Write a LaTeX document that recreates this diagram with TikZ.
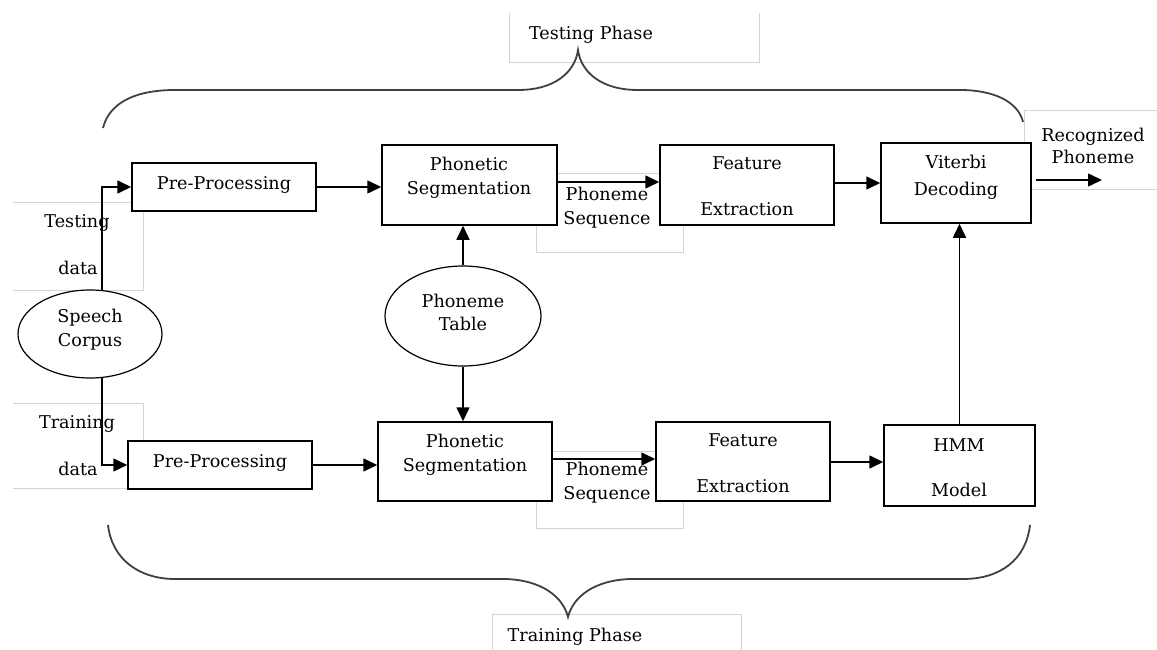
\documentclass[tikz,border=0pt]{standalone}
\usepackage{fontspec}
\setmainfont{DejaVu Serif}
\usetikzlibrary{arrows.meta,calc,shapes.geometric}
\begin{document}
\begin{tikzpicture}[x=1pt,y=-1pt,
  box/.style={draw=black,line width=1.5pt,fill=white,inner sep=0pt},
  oval/.style={draw=black,line width=1.2pt,ellipse,fill=white,inner sep=0pt},
  txt/.style={font=\fontsize{17.6}{24}\selectfont,align=center,inner sep=0pt},
  frame/.style={draw=black!17,line width=1pt},
  arr/.style={line width=1.6pt,-{Triangle[length=14pt,width=13pt]}},
  brace/.style={draw=black!75,line width=1.8pt}]
\useasboundingbox (0,0) rectangle (1157,650);

% light text-box frames
\draw[frame] (509,13) |- (759,63) -- (759,13);
\draw[frame] (492,650) |- (741,614) -- (741,650);
\draw[frame] (13,202) -| (143,290) -- (13,290);
\draw[frame] (13,403) -| (143,488) -- (13,488);
\draw[frame] (536,174) rectangle (683,252);
\draw[frame] (536,451) rectangle (683,528);
\draw[frame] (1157,111) -| (1024,189) -- (1157,189);

% braces
\draw[brace] (103,128) .. controls (110,100) and (140,90) .. (175,90) -- (518,90)
  .. controls (555,90) and (575,72) .. (578,50)
  .. controls (581,72) and (601,90) .. (638,90) -- (963,90)
  .. controls (1000,91) and (1019,105) .. (1023,122);
\draw[brace] (108,525) .. controls (112,560) and (140,579) .. (175,579) -- (505,579)
  .. controls (542,580) and (563,597) .. (568,617)
  .. controls (573,597) and (594,580) .. (631,579) -- (963,579)
  .. controls (1000,579) and (1026,560) .. (1030,525);

% boxes
\node[box,minimum width=184pt,minimum height=48pt] (pp1) at (224,187) {};
\node[box,minimum width=184pt,minimum height=48pt] (pp2) at (220,465) {};
\node[box,minimum width=175pt,minimum height=80pt] (ps1) at (469.5,185) {};
\node[box,minimum width=174pt,minimum height=79pt] (ps2) at (465,461.5) {};
\node[box,minimum width=174pt,minimum height=80pt] (fe1) at (747,185) {};
\node[box,minimum width=174pt,minimum height=79pt] (fe2) at (743,461.5) {};
\node[box,minimum width=150pt,minimum height=80pt] (vd) at (956,183) {};
\node[box,minimum width=151pt,minimum height=81pt] (hmm) at (959.5,465.5) {};
\node[oval,minimum width=144pt,minimum height=88pt] (sc) at (90,334) {};
\node[oval,minimum width=156pt,minimum height=100pt] (pt) at (463,316) {};

% texts
\node[txt] (tph) at (591,35) {Testing Phase};
\node[txt] (trph) at (575,637) {Training Phase};
\node[txt] (tst) at (77,223) {Testing};
\node[txt] (tstd) at (78,268) {data};
\node[txt] (trn) at (77,424) {Training};
\node[txt] (trnd) at (78,469) {data};
\node[txt] (pp1t) at (224,185) {Pre-Processing};
\node[txt] (pp2t) at (220,463) {Pre-Processing};
\node[txt] (ps1t) at (469,178) {Phonetic\\Segmentation};
\node[txt] (ps2t) at (465,455) {Phonetic\\Segmentation};
\node[txt] (fe1t) at (747,186) {Feature\\[22pt]Extraction};
\node[txt] (fe2t) at (743,463) {Feature\\[22pt]Extraction};
\node[txt] (vdt) at (956,177) {Viterbi\\[3pt]Decoding};
\node[txt] (hmmt) at (959,468) {HMM\\[21pt]Model};
\node[txt] (rect) at (1093,146) {Recognized\\[-2pt]Phoneme};
\node[txt] (sq1) at (607,208) {Phoneme\\Sequence};
\node[txt] (sq2) at (607,483) {Phoneme\\Sequence};
\node[txt] (sct) at (90,330) {Speech\\Corpus};
\node[txt] (ptt) at (463,312) {Phoneme\\[-1pt]Table};

% connectors
\coordinate (out) at (1102,180);
\draw[arr] ($(sc.north)+(12,0.5)$) |- (pp1.west);
\draw[arr] ($(sc.south)+(12,-0.5)$) |- (pp2.west);
\draw[arr] (pp1.east) -- (pp1.east -| ps1.west);
\draw[arr] (pp2.east) -- (pp2.east -| ps2.west);
\draw[arr] (ps1.east |- 0,182) -- (fe1.west |- 0,182);
\draw[arr] (ps2.east |- 0,459) -- (fe2.west |- 0,459);
\draw[arr] (fe1.east |- 0,183) -- (vd.west |- 0,183);
\draw[arr] (fe2.east |- 0,462) -- (hmm.west |- 0,462);
\draw[arr] ($(vd.east)+(4,-3)$) -- (out);
\draw[arr] (pt.north) -- (pt.north |- ps1.south);
\draw[arr] (pt.south) -- (pt.south |- ps2.north);
\draw[arr] (hmm.north) -- (hmm.north |- vd.south);
\end{tikzpicture}
\end{document}
